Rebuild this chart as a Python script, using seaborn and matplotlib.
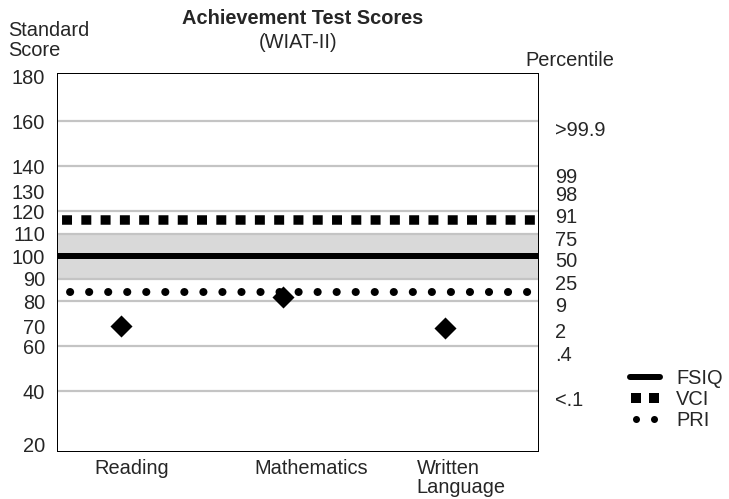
import matplotlib
matplotlib.use("Agg")
import matplotlib.pyplot as plt
import seaborn as sns
import pandas as pd
import numpy as np
from matplotlib.lines import Line2D
from matplotlib.legend_handler import HandlerLine2D

# ---- data ----
categories = ["Reading", "Mathematics", "Written\nLanguage"]
scores = [69, 82, 68]
fsiq = 100
vci = 116
pri = 84
avg_low, avg_high = 90, 110
grid_values = [160, 140, 120, 110, 90, 80, 60, 40]
left_tick_labels = ["180", "160", "140", "130", "120", "110", "100", "90", "80", "70", "60", "40", "20"]
left_tick_pos = [180, 160, 140, 129, 120, 110, 100, 90, 80, 69, 60, 40, 16.5]
pct_labels = [">99.9", "99", "98", "91", "75", "50", "25", "9", "2", ".4", "<.1"]
pct_pos = [157, 136, 128, 118, 108, 98.4, 88.6, 78.4, 67.2, 57, 37]
legend_labels = ["FSIQ", "VCI", "PRI"]

sns.set_theme(style="white")
plt.rcParams['font.family'] = ['Liberation Sans', 'DejaVu Sans']

PX = 0.72  # points per pixel at dpi 100
FS = 14.4

fig = plt.figure(figsize=(7.29, 4.99), dpi=100)
ax = fig.add_axes([57 / 729, 1 - 451 / 499, 481 / 729, 378 / 499])

ax.axhspan(avg_low, avg_high, color="#d9d9d9", lw=0, zorder=0)
for g in grid_values:
    ax.axhline(g, color="#c4c4c4", lw=2.2 * PX, zorder=1)
ax.axhline(fsiq, color="black", lw=6 * PX, solid_capstyle="round", zorder=3)
ax.axhline(vci, color="black", lw=9.5 * PX, linestyle=(1.5, (1.05, 0.98)),
           dash_capstyle="butt", zorder=3)
ax.axhline(pri, color="black", lw=8 * PX, linestyle=(0.75, (0.02, 2.36)),
           dash_capstyle="round", zorder=3)

df = pd.DataFrame({"pos": np.arange(len(categories)), "score": scores})
sns.scatterplot(data=df, x="pos", y="score", marker="D", s=(15.6 * PX) ** 2,
                color="black", linewidth=0, zorder=4, ax=ax, legend=False)

ax.set_xlim(-0.395, 2.574)
ax.set_ylim(13.5, 181.5)
ax.set_xlabel("")
ax.set_ylabel("")
ax.set_xticks([0.068, 1.176, 2.10])
ax.set_xticklabels(categories, fontsize=FS, linespacing=1.0)
for t in ax.get_xticklabels():
    t.set_multialignment("left")
ax.set_yticks(left_tick_pos)
ax.set_yticklabels(left_tick_labels, fontsize=FS)
ax.tick_params(axis="x", length=0, pad=5.5)
ax.tick_params(axis="y", length=0, pad=12 * PX)
for sp in ax.spines.values():
    sp.set_color("black")
    sp.set_linewidth(1.0 * PX)

ax2 = ax.twinx()
ax2.set_ylim(ax.get_ylim())
ax2.set_yticks(pct_pos)
ax2.set_yticklabels(pct_labels, fontsize=FS)
ax2.tick_params(axis="y", length=0, pad=17 * PX)
for sp in ax2.spines.values():
    sp.set_color("black")
    sp.set_linewidth(1.0 * PX)

# titles / axis captions
fig.text(303 / 729, 1 - 24 / 499, "Achievement Test Scores", ha="center", va="baseline",
         fontsize=FS, fontweight="bold")
fig.text(298 / 729, 1 - 48 / 499, "(WIAT-II)", ha="center", va="baseline", fontsize=FS)
fig.text(8 / 729, 1 - 36 / 499, "Standard", ha="left", va="baseline", fontsize=FS)
fig.text(8 / 729, 1 - 56 / 499, "Score", ha="left", va="baseline", fontsize=FS)
fig.text(525 / 729, 1 - 66 / 499, "Percentile", ha="left", va="baseline", fontsize=FS)

# legend
h_fsiq = Line2D([], [], color="black", lw=6 * PX, solid_capstyle="round")
h_vci = Line2D([], [], color="black", ls="none", marker="s", markersize=10 * PX,
               markeredgewidth=0)
h_pri = Line2D([], [], color="black", ls="none", marker="o", markersize=7 * PX,
               markeredgewidth=0)
fig.legend([h_fsiq, h_vci, h_pri], legend_labels, loc="upper left",
           bbox_to_anchor=(630 / 729, 1 - 369 / 499), frameon=False,
           fontsize=FS, numpoints=2, handlelength=1.5, handletextpad=0.8,
           labelspacing=0.1, borderpad=0, borderaxespad=0,
           handler_map={h_fsiq: HandlerLine2D(numpoints=1)})

fig.savefig("out.png", dpi=100)
